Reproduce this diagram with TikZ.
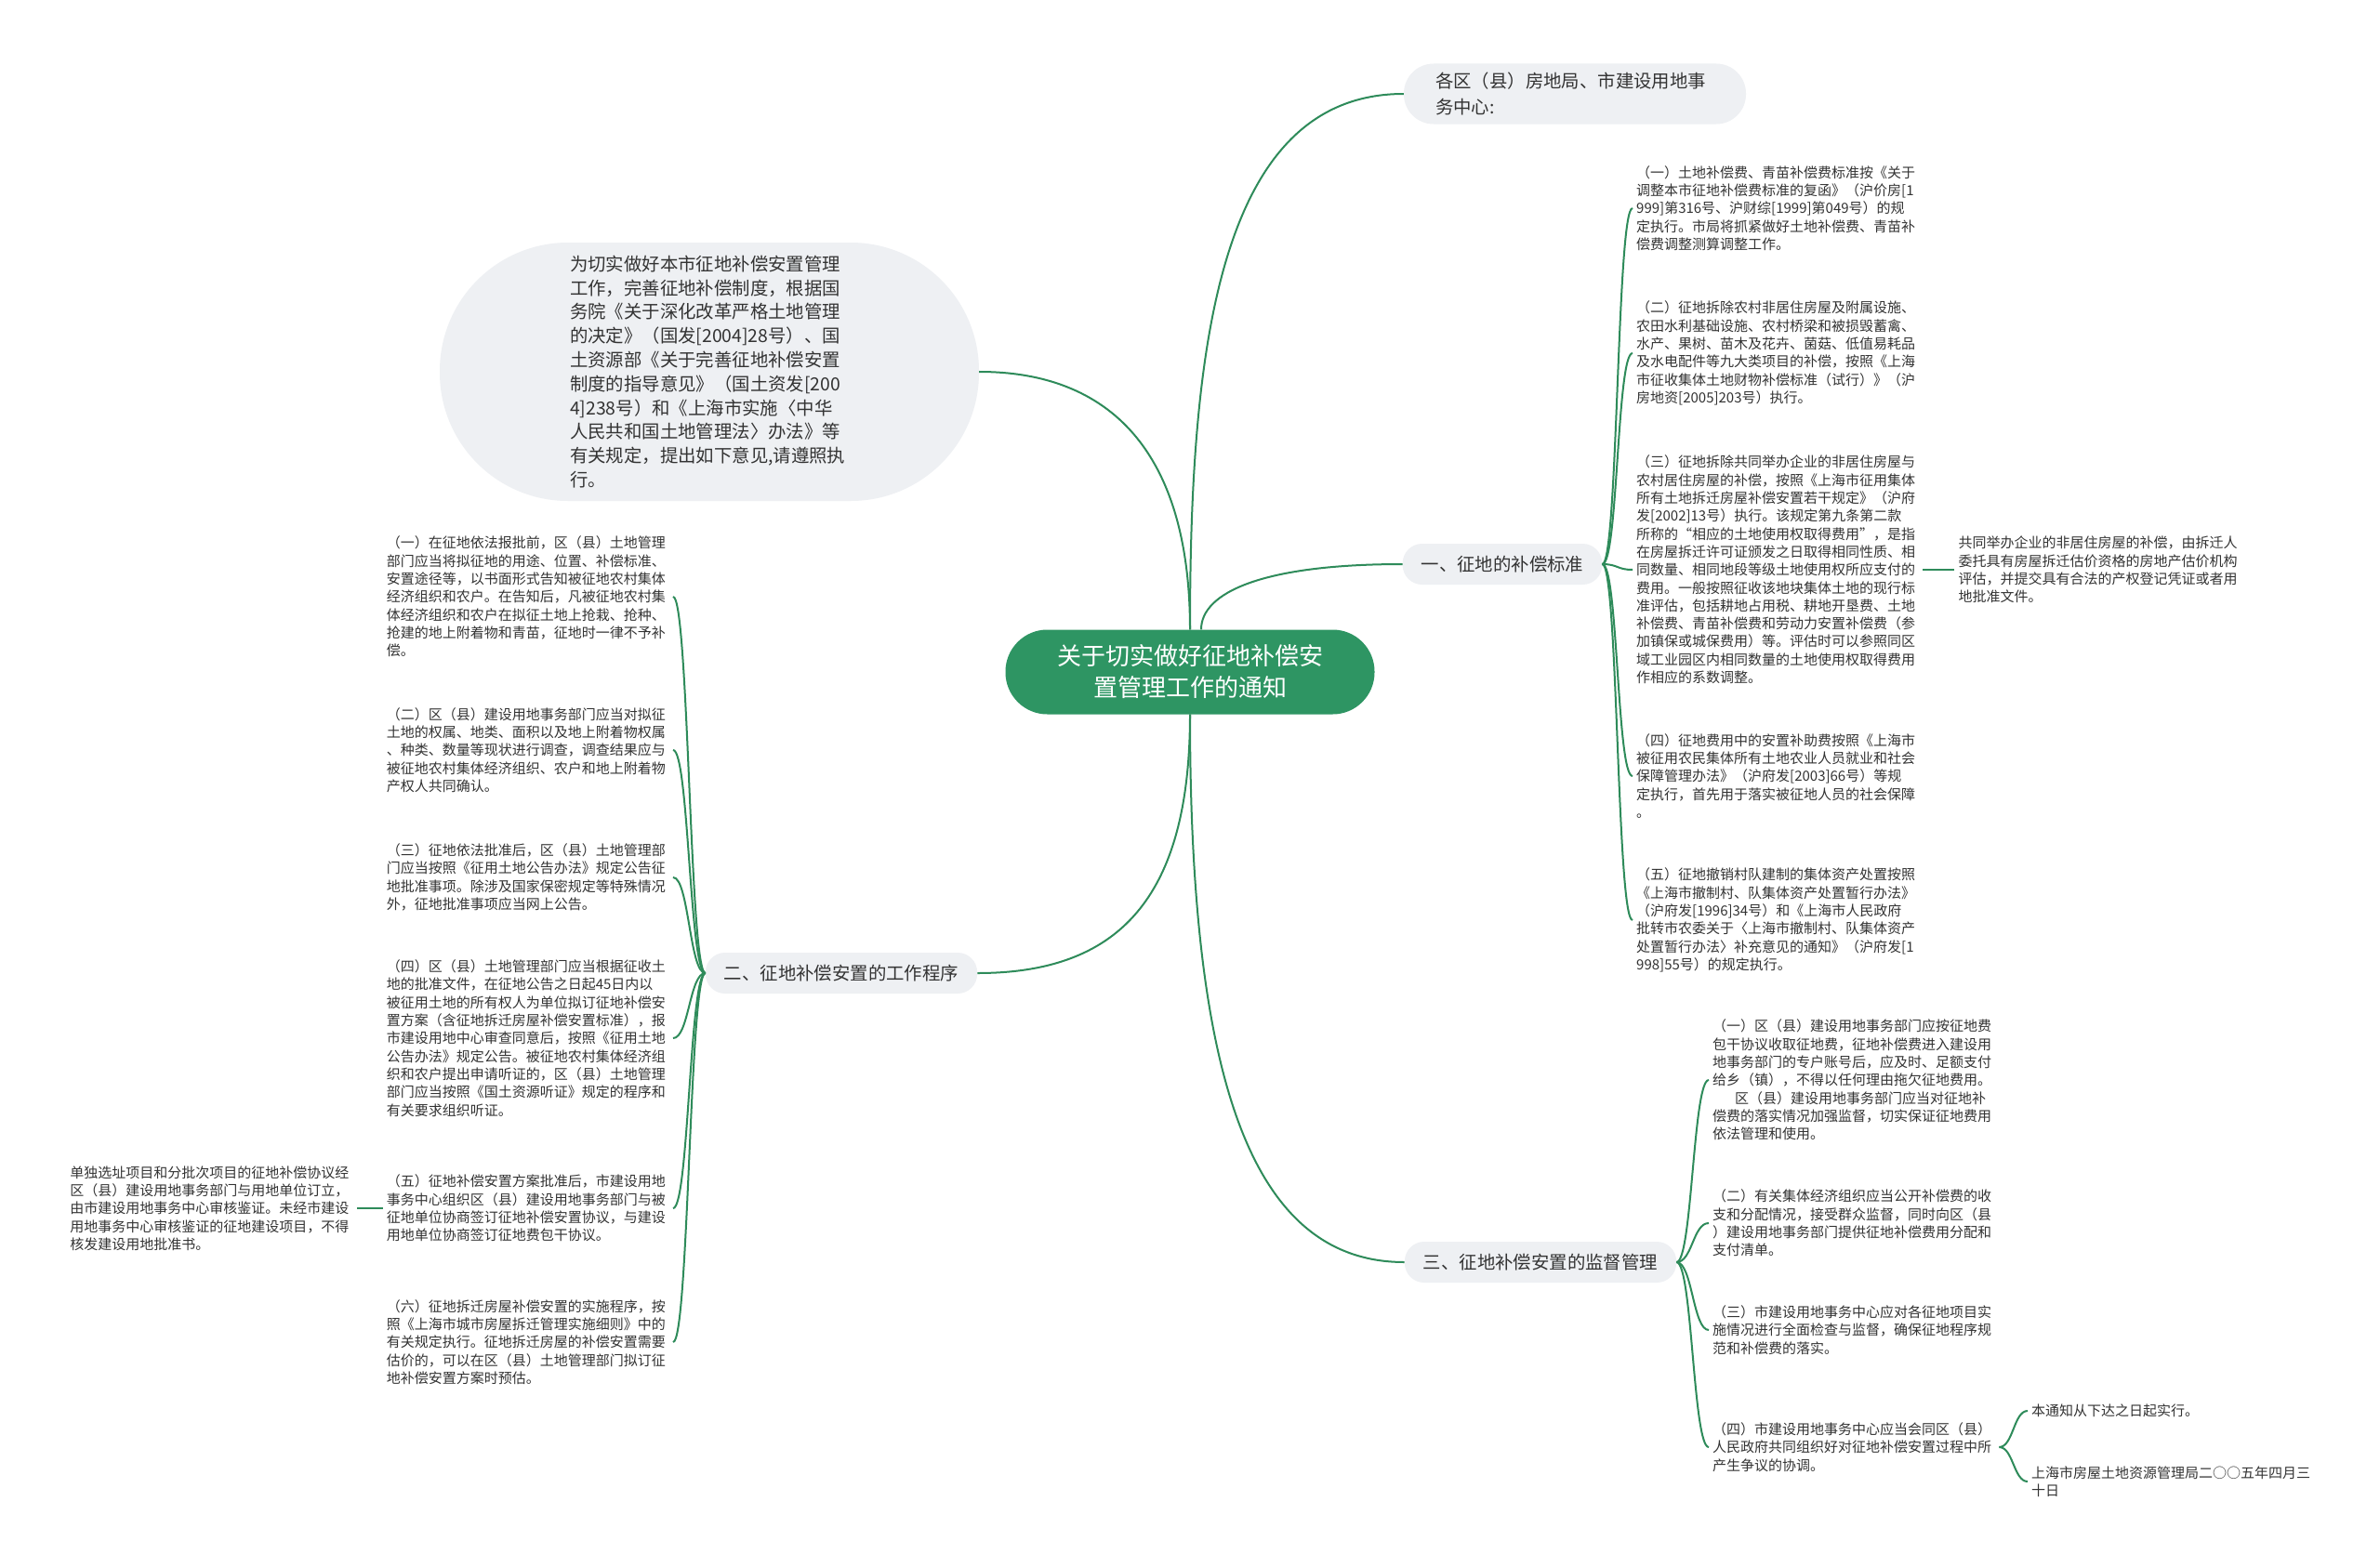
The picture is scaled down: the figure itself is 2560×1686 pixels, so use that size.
\documentclass[tikz,border=0pt]{standalone}
\usepackage{fontspec}
\setmainfont{Noto Sans CJK SC}
\usepackage{tikz}
\usetikzlibrary{positioning}
\definecolor{mapgreen}{HTML}{2E8B5A}
\definecolor{rootgreen}{HTML}{2E9563}
\definecolor{pillgray}{HTML}{EEF0F3}
\definecolor{inkgray}{HTML}{333333}
\tikzset{
  link/.style={draw=mapgreen, line width=2pt},
  leaf/.style={text=inkgray, align=left, text width=304pt, inner xsep=4pt, inner ysep=2pt,
    font=\fontsize{15}{19.3}\selectfont},
  pill/.style={fill=pillgray, text=inkgray, inner xsep=20pt, minimum height=44pt,
    rounded corners=21pt, font=\fontsize{19.4}{26}\selectfont},
}

\begin{document}
\begin{tikzpicture}[x=1pt, y=-1pt]
\path[use as bounding box, fill=white] (0,0) rectangle (2560,1686);

\node[fill=rootgreen, text=white, align=center, minimum width=397pt, minimum height=91pt,
  rounded corners=45pt, font=\fontsize{26}{34}\selectfont] (Root) at (1280,723)
  {关于切实做好征地补偿安\\置管理工作的通知};

\node[fill=pillgray, text=inkgray, align=left, text width=300pt, minimum width=580pt,
  minimum height=278pt, rounded corners=138pt, font=\fontsize{19.4}{25.8}\selectfont] (Intro) at (763,400)
  {为切实做好本市征地补偿安置管理\\
   工作，完善征地补偿制度，根据国\\
   务院《关于深化改革严格土地管理\\
   的决定》（国发[2004]28号）、国\\
   土资源部《关于完善征地补偿安置\\
   制度的指导意见》（国土资发[200\\
   4]238号）和《上海市实施〈中华\\
   人民共和国土地管理法〉办法》等\\
   有关规定，提出如下意见,请遵照执\\
   行。};

\node[fill=pillgray, text=inkgray, align=left, text width=300pt, inner xsep=34pt,
  minimum height=65pt, rounded corners=32pt, font=\fontsize{19.4}{28}\selectfont] (Dept) at (1694,101)
  {各区（县）房地局、市建设用地事\\务中心:};

\node[pill] (S1) at (1616,607) {一、征地的补偿标准};
\node[pill] (S2) at (905,1047) {二、征地补偿安置的工作程序};
\node[pill] (S3) at (1657,1358) {三、征地补偿安置的监督管理};

\node[leaf, anchor=west] (S1a) at (1756,224)
  {（一）土地补偿费、青苗补偿费标准按《关于\\
   调整本市征地补偿费标准的复函》（沪价房[1\\
   999]第316号、沪财综[1999]第049号）的规\\
   定执行。市局将抓紧做好土地补偿费、青苗补\\
   偿费调整测算调整工作。};
\node[leaf, anchor=west] (S1b) at (1756,380)
  {（二）征地拆除农村非居住房屋及附属设施、\\
   农田水利基础设施、农村桥梁和被损毁蓄禽、\\
   水产、果树、苗木及花卉、菌菇、低值易耗品\\
   及水电配件等九大类项目的补偿，按照《上海\\
   市征收集体土地财物补偿标准（试行）》（沪\\
   房地资[2005]203号）执行。};
\node[leaf, anchor=west] (S1c) at (1756,613)
  {（三）征地拆除共同举办企业的非居住房屋与\\
   农村居住房屋的补偿，按照《上海市征用集体\\
   所有土地拆迁房屋补偿安置若干规定》（沪府\\
   发[2002]13号）执行。该规定第九条第二款\\
   所称的“相应的土地使用权取得费用”，是指\\
   在房屋拆迁许可证颁发之日取得相同性质、相\\
   同数量、相同地段等级土地使用权所应支付的\\
   费用。一般按照征收该地块集体土地的现行标\\
   准评估，包括耕地占用税、耕地开垦费、土地\\
   补偿费、青苗补偿费和劳动力安置补偿费（参\\
   加镇保或城保费用）等。评估时可以参照同区\\
   域工业园区内相同数量的土地使用权取得费用\\
   作相应的系数调整。};
\node[leaf, right=34pt of S1c] (S1x)
  {共同举办企业的非居住房屋的补偿，由拆迁人\\
   委托具有房屋拆迁估价资格的房地产估价机构\\
   评估，并提交具有合法的产权登记凭证或者用\\
   地批准文件。};
\node[leaf, anchor=west] (S1d) at (1756,835)
  {（四）征地费用中的安置补助费按照《上海市\\
   被征用农民集体所有土地农业人员就业和社会\\
   保障管理办法》（沪府发[2003]66号）等规\\
   定执行，首先用于落实被征地人员的社会保障\\
   。};
\node[leaf, anchor=west] (S1e) at (1756,990)
  {（五）征地撤销村队建制的集体资产处置按照\\
   《上海市撤制村、队集体资产处置暂行办法》\\
   （沪府发[1996]34号）和《上海市人民政府\\
   批转市农委关于〈上海市撤制村、队集体资产\\
   处置暂行办法〉补充意见的通知》（沪府发[1\\
   998]55号）的规定执行。};

\node[leaf, anchor=east] (S2a) at (724,642)
  {（一）在征地依法报批前，区（县）土地管理\\
   部门应当将拟征地的用途、位置、补偿标准、\\
   安置途径等，以书面形式告知被征地农村集体\\
   经济组织和农户。在告知后，凡被征地农村集\\
   体经济组织和农户在拟征土地上抢栽、抢种、\\
   抢建的地上附着物和青苗，征地时一律不予补\\
   偿。};
\node[leaf, anchor=east] (S2b) at (724,807)
  {（二）区（县）建设用地事务部门应当对拟征\\
   土地的权属、地类、面积以及地上附着物权属\\
   、种类、数量等现状进行调查，调查结果应与\\
   被征地农村集体经济组织、农户和地上附着物\\
   产权人共同确认。};
\node[leaf, anchor=east] (S2c) at (724,944)
  {（三）征地依法批准后，区（县）土地管理部\\
   门应当按照《征用土地公告办法》规定公告征\\
   地批准事项。除涉及国家保密规定等特殊情况\\
   外，征地批准事项应当网上公告。};
\node[leaf, anchor=east] (S2d) at (724,1117)
  {（四）区（县）土地管理部门应当根据征收土\\
   地的批准文件，在征地公告之日起45日内以\\
   被征用土地的所有权人为单位拟订征地补偿安\\
   置方案（含征地拆迁房屋补偿安置标准），报\\
   市建设用地中心审查同意后，按照《征用土地\\
   公告办法》规定公告。被征地农村集体经济组\\
   织和农户提出申请听证的，区（县）土地管理\\
   部门应当按照《国土资源听证》规定的程序和\\
   有关要求组织听证。};
\node[leaf, anchor=east] (S2e) at (724,1300)
  {（五）征地补偿安置方案批准后，市建设用地\\
   事务中心组织区（县）建设用地事务部门与被\\
   征地单位协商签订征地补偿安置协议，与建设\\
   用地单位协商签订征地费包干协议。};
\node[leaf, left=28pt of S2e] (S2x)
  {单独选址项目和分批次项目的征地补偿协议经\\
   区（县）建设用地事务部门与用地单位订立，\\
   由市建设用地事务中心审核鉴证。未经市建设\\
   用地事务中心审核鉴证的征地建设项目，不得\\
   核发建设用地批准书。};
\node[leaf, anchor=east] (S2f) at (724,1444)
  {（六）征地拆迁房屋补偿安置的实施程序，按\\
   照《上海市城市房屋拆迁管理实施细则》中的\\
   有关规定执行。征地拆迁房屋的补偿安置需要\\
   估价的，可以在区（县）土地管理部门拟订征\\
   地补偿安置方案时预估。};

\node[leaf, anchor=west] (S3a) at (1838,1162)
  {（一）区（县）建设用地事务部门应按征地费\\
   包干协议收取征地费，征地补偿费进入建设用\\
   地事务部门的专户账号后，应及时、足额支付\\
   给乡（镇），不得以任何理由拖欠征地费用。\\
   \hspace*{24pt}区（县）建设用地事务部门应当对征地补\\
   偿费的落实情况加强监督，切实保证征地费用\\
   依法管理和使用。};
\node[leaf, anchor=west] (S3b) at (1838,1316)
  {（二）有关集体经济组织应当公开补偿费的收\\
   支和分配情况，接受群众监督，同时向区（县\\
   ）建设用地事务部门提供征地补偿费用分配和\\
   支付清单。};
\node[leaf, anchor=west] (S3c) at (1838,1431)
  {（三）市建设用地事务中心应对各征地项目实\\
   施情况进行全面检查与监督，确保征地程序规\\
   范和补偿费的落实。};
\node[leaf, anchor=west] (S3d) at (1838,1557)
  {（四）市建设用地事务中心应当会同区（县）\\
   人民政府共同组织好对征地补偿安置过程中所\\
   产生争议的协调。};
\node[leaf, anchor=west] (S3e) at (2181,1518) {本通知从下达之日起实行。};
\node[leaf, anchor=west] (S3f) at (2181,1594)
  {上海市房屋土地资源管理局二○○五年四月三\\十日};

\draw[link] (Root.north) .. controls +(0,-300) and +(-200,0) .. (Dept.west);
\draw[link] (Root.north) .. controls +(0,-180) and +(150,0) .. (Intro.east);
\draw[link] ([xshift=12pt]Root.north) .. controls +(0,-40) and +(-150,0) .. (S1.west);
\draw[link] (Root.south) .. controls +(0,200) and +(150,0) .. (S2.east);
\draw[link] (Root.south) .. controls +(0,380) and +(-170,0) .. (S3.west);

\draw[link] (S1.east) .. controls +(17,0) and +(-17,0) .. (S1a.west);
\draw[link] (S1.east) .. controls +(17,0) and +(-17,0) .. (S1b.west);
\draw[link] (S1.east) .. controls +(17,0) and +(-17,0) .. (S1c.west);
\draw[link] (S1.east) .. controls +(17,0) and +(-17,0) .. (S1d.west);
\draw[link] (S1.east) .. controls +(17,0) and +(-17,0) .. (S1e.west);
\draw[link] (S1c.east) -- (S1x.west);

\draw[link] (S2.west) .. controls +(-17,0) and +(17,0) .. (S2a.east);
\draw[link] (S2.west) .. controls +(-17,0) and +(17,0) .. (S2b.east);
\draw[link] (S2.west) .. controls +(-17,0) and +(17,0) .. (S2c.east);
\draw[link] (S2.west) .. controls +(-17,0) and +(17,0) .. (S2d.east);
\draw[link] (S2.west) .. controls +(-17,0) and +(17,0) .. (S2e.east);
\draw[link] (S2.west) .. controls +(-17,0) and +(17,0) .. (S2f.east);
\draw[link] (S2e.west) -- (S2x.east);

\draw[link] (S3.east) .. controls +(17,0) and +(-17,0) .. (S3a.west);
\draw[link] (S3.east) .. controls +(17,0) and +(-17,0) .. (S3b.west);
\draw[link] (S3.east) .. controls +(17,0) and +(-17,0) .. (S3c.west);
\draw[link] (S3.east) .. controls +(17,0) and +(-17,0) .. (S3d.west);
\draw[link] (S3d.east) .. controls +(15,0) and +(-15,0) .. (S3e.west);
\draw[link] (S3d.east) .. controls +(15,0) and +(-15,0) .. (S3f.west);
\end{tikzpicture}
\end{document}
